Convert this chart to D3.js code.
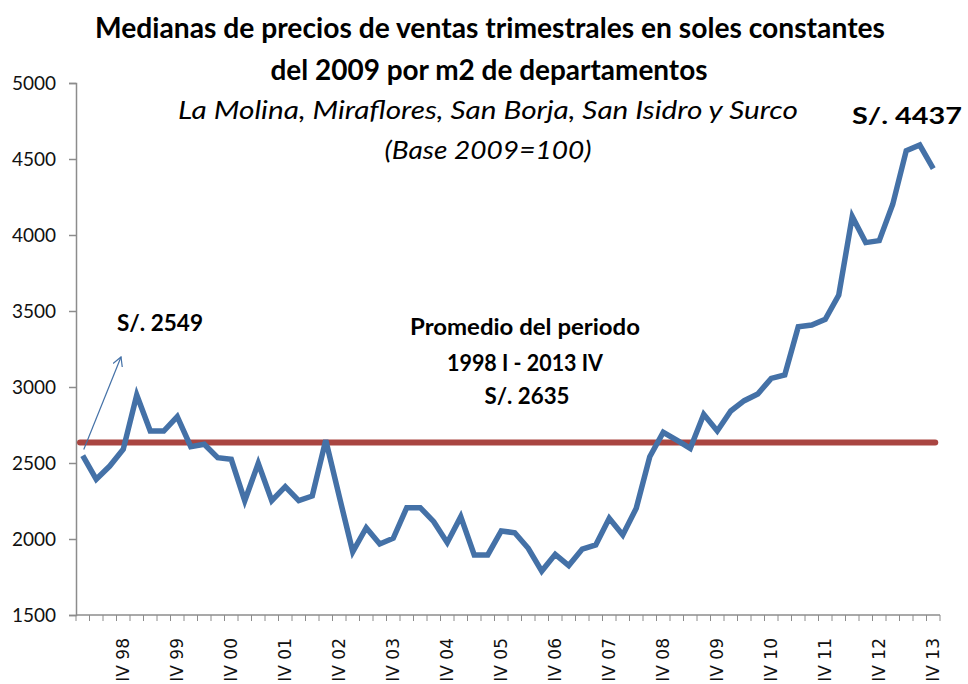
<!DOCTYPE html>
<html>
<head>
<meta charset="utf-8">
<script src="https://cdn.jsdelivr.net/npm/d3@7"></script>
<style>
  body { margin: 0; background: #fff; }
  svg { display: block; }
</style>
</head>
<body>
<svg width="968" height="684"></svg>
<script>
// quarterly data 1998 I .. 2013 IV
var years = ["98","99","00","01","02","03","04","05","06","07","08","09","10","11","12","13"];
var quarters = ["I","II","III","IV"];
var medianPrice = [
  2549, 2393, 2480, 2590, 2947, 2710, 2710, 2805,
  2607, 2623, 2535, 2524, 2252, 2498, 2252, 2344,
  2252, 2283, 2651, 2280, 1916, 2074, 1967, 2005,
  2206, 2206, 2114, 1976, 2147, 1895, 1895, 2053,
  2041, 1939, 1789, 1899, 1825, 1934, 1961, 2136,
  2026, 2202, 2541, 2702, 2651, 2596, 2820, 2711,
  2842, 2910, 2954, 3057, 3079, 3397, 3408, 3445,
  3605, 4121, 3950, 3963, 4202, 4555, 4592, 4437
];
var periodAvg = 2635;
var yTicks = [1500, 2000, 2500, 3000, 3500, 4000, 4500, 5000];

var labels = [];
years.forEach(function(y) {
  quarters.forEach(function(q) { labels.push(q + " " + y); });
});

var svg = d3.select("svg");
var plotLeft = 76, plotRight = 940, plotTop = 83, plotBottom = 615;

var x = d3.scaleBand().domain(labels).range([plotLeft, plotRight]);
var y = d3.scaleLinear().domain([1500, 5000]).range([plotBottom, plotTop]);

// y axis
var yAxis = svg.append("g")
  .attr("transform", "translate(" + plotLeft + ",0)")
  .call(d3.axisLeft(y).tickValues(yTicks).tickFormat(d3.format("d")).tickSize(7).tickPadding(13));
yAxis.selectAll("text").style("font-family", "Lato, sans-serif").style("font-size", "19px").attr("fill", "#111");
yAxis.selectAll("line, path").attr("stroke", "#8c8c8c").attr("stroke-width", 1.5);

// x axis: ticks at category boundaries, labels only for IV quarters
var xAxis = svg.append("g").attr("transform", "translate(0," + plotBottom + ")");
xAxis.append("line")
  .attr("x1", plotLeft).attr("x2", plotRight)
  .attr("stroke", "#8c8c8c").attr("stroke-width", 1.5);
var bounds = labels.map(function(d) { return x(d); }).concat([plotRight]);
xAxis.selectAll("line.tk").data(bounds).enter().append("line")
  .attr("class", "tk")
  .attr("x1", function(d) { return d; }).attr("x2", function(d) { return d; })
  .attr("y1", 0).attr("y2", 6)
  .attr("stroke", "#8c8c8c").attr("stroke-width", 1);
xAxis.selectAll("text").data(labels.filter(function(d) { return d.indexOf("IV") === 0; }))
  .enter().append("text")
  .attr("transform", function(d) {
    return "translate(" + (x(d) + x.bandwidth() / 2 + 6) + ",23) rotate(-90)";
  })
  .attr("text-anchor", "end")
  .style("font-family", "DejaVu Sans, sans-serif")
  .style("font-size", "17px")
  .attr("fill", "#111")
  .text(function(d) { return d; });

// average line
svg.append("line")
  .attr("x1", x(labels[0]) + 4).attr("x2", x(labels[labels.length - 1]) + x.bandwidth() / 2 + 2)
  .attr("y1", y(periodAvg)).attr("y2", y(periodAvg))
  .attr("stroke", "#a94541").attr("stroke-width", 6).attr("stroke-linecap", "round");

// series line
var line = d3.line()
  .x(function(d, i) { return x(labels[i]) + x.bandwidth() / 2; })
  .y(function(d) { return y(d); });
svg.append("path")
  .datum(medianPrice)
  .attr("d", line)
  .attr("fill", "none")
  .attr("stroke", "#4471a7")
  .attr("stroke-width", 5.5)
  .attr("stroke-linejoin", "miter");

// arrow from first point
svg.append("defs").append("marker")
  .attr("id", "arr").attr("viewBox", "0 0 10 10")
  .attr("refX", 9).attr("refY", 5)
  .attr("markerWidth", 10).attr("markerHeight", 10)
  .attr("markerUnits", "userSpaceOnUse")
  .attr("orient", "auto")
  .append("path").attr("d", "M0,0 L9,5 L0,10")
  .attr("fill", "none").attr("stroke", "#4471a7").attr("stroke-width", 1.2);
svg.append("line")
  .attr("x1", x(labels[0]) + x.bandwidth() / 2 + 1).attr("y1", y(medianPrice[0]) - 6)
  .attr("x2", 121).attr("y2", 357)
  .attr("stroke", "#4471a7").attr("stroke-width", 1.2)
  .attr("marker-end", "url(#arr)");

// texts
function txt(s, cx, by, size, w, opts) {
  opts = opts || {};
  var t = svg.append("text")
    .attr("x", cx).attr("y", by)
    .attr("text-anchor", "middle")
    .style("font-family", "Lato, sans-serif")
    .style("font-size", size + "px")
    .style("font-weight", opts.italic ? "normal" : "bold")
    .style("font-style", opts.italic ? "italic" : "normal")
    .attr("fill", "#000")
    .text(s);
  if (w) t.attr("textLength", w).attr("lengthAdjust", "spacingAndGlyphs");
  return t;
}
txt("Medianas de precios de ventas trimestrales en soles constantes", 490, 38, 28, 790);
txt("del 2009 por m2 de departamentos", 489, 80, 28, 437);
txt("La Molina, Miraflores, San Borja, San Isidro y Surco", 488, 119, 26, 620, { italic: true });
txt("(Base 2009=100)", 488, 159, 26, 207, { italic: true });
txt("S/. 2549", 160, 331, 22, 86);
txt("Promedio del periodo", 525, 335, 22, 230);
txt("1998 I - 2013 IV", 525, 371, 22, 156);
txt("S/. 2635", 527, 404, 22, 85);
txt("S/. 4437", 907, 124, 22, 110);
</script>
</body>
</html>
